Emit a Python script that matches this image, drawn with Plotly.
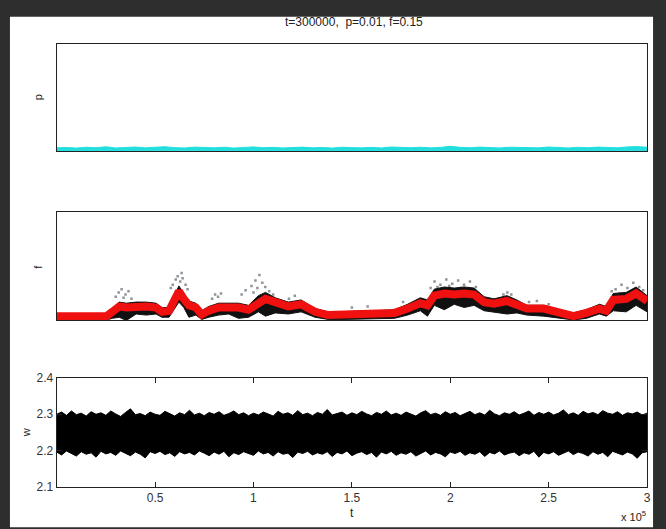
import numpy as np
import plotly.graph_objects as go

# ---------------- data ----------------
T_END = 300000

# p: upper / lower edges of the noisy trace (evenly sampled over 0..T_END)
p_high = [0.030, 0.034, 0.028, 0.036, 0.031, 0.040, 0.029, 0.033, 0.038, 0.030,
          0.035, 0.041, 0.032, 0.029, 0.037, 0.033, 0.030, 0.036, 0.028, 0.034,
          0.039, 0.031, 0.035, 0.029, 0.033, 0.037, 0.030, 0.034, 0.028, 0.036,
          0.032, 0.030, 0.035, 0.029, 0.038, 0.033, 0.031, 0.036, 0.030, 0.034,
          0.045, 0.035, 0.031, 0.037, 0.033, 0.029, 0.036, 0.032, 0.034, 0.030,
          0.038, 0.033, 0.029, 0.035, 0.031, 0.037, 0.034, 0.030, 0.039, 0.042,
          0.036]
p_low = [0.004, 0.003, 0.005, 0.002, 0.004, 0.003, 0.005, 0.004, 0.002, 0.004,
         0.003, 0.005, 0.004, 0.003, 0.002, 0.004, 0.005, 0.003, 0.004, 0.002,
         0.004, 0.003, 0.005, 0.004, 0.003, 0.004, 0.002, 0.005, 0.003, 0.004,
         0.004, 0.003, 0.002, 0.005, 0.004, 0.003, 0.004, 0.005, 0.003, 0.002,
         0.004, 0.003, 0.005, 0.004, 0.003, 0.004, 0.002, 0.004, 0.005, 0.003,
         0.004, 0.003, 0.002, 0.004, 0.005, 0.003, 0.004, 0.003, 0.005, 0.004,
         0.003]

# f: smoothed trend (red), raw spread (black) and sparse outliers (grey)
f_t_k = [0, 11.6, 25.3, 28.3, 31.8, 35.4, 40.4, 45.5, 50.5, 53.5,
         57.1, 59.6, 62.1, 64.6, 67.2, 70.7, 73.7, 77.3, 82.3, 87.4,
         92.4, 97.5, 102.5, 106.1, 111.1, 117.7, 124.2, 131.3, 137.9, 146.5,
         154.5, 163.1, 171.7, 178.3, 184.8, 188.4, 191.9, 197.0, 202.0, 207.1,
         212.1, 217.2, 222.2, 228.8, 233.8, 238.9, 247.5, 255.6, 262.6, 269.2,
         275.8, 279.3, 282.8, 289.4, 294.4, 300]
f_smooth = [0.04, 0.04, 0.04, 0.08, 0.13, 0.12, 0.13, 0.13, 0.12, 0.08,
            0.09, 0.17, 0.27, 0.20, 0.14, 0.12, 0.055, 0.09, 0.12, 0.12,
            0.12, 0.10, 0.17, 0.20, 0.17, 0.13, 0.15, 0.08, 0.05, 0.055,
            0.06, 0.06, 0.07, 0.11, 0.16, 0.14, 0.23, 0.25, 0.24, 0.25,
            0.24, 0.17, 0.155, 0.18, 0.15, 0.11, 0.11, 0.075, 0.04, 0.07,
            0.11, 0.09, 0.19, 0.20, 0.25, 0.18]
f_raw_low = [0.005, 0.01, 0.005, 0.02, 0.03, 0.0, 0.06, 0.05, 0.06, 0.03,
             0.03, 0.10, 0.17, 0.12, 0.03, 0.05, 0.01, 0.03, 0.05, 0.06,
             0.02, 0.03, 0.08, 0.04, 0.07, 0.06, 0.08, 0.03, 0.01, 0.01,
             0.015, 0.02, 0.02, 0.05, 0.09, 0.04, 0.14, 0.10, 0.15, 0.12,
             0.14, 0.09, 0.08, 0.06, 0.07, 0.05, 0.04, 0.02, 0.005, 0.02,
             0.06, 0.04, 0.09, 0.08, 0.14, 0.08]
f_raw_high = [0.06, 0.065, 0.06, 0.11, 0.17, 0.16, 0.17, 0.17, 0.16, 0.12,
              0.12, 0.22, 0.32, 0.25, 0.18, 0.16, 0.09, 0.13, 0.16, 0.16,
              0.16, 0.14, 0.23, 0.26, 0.21, 0.17, 0.19, 0.11, 0.08, 0.08,
              0.09, 0.09, 0.10, 0.15, 0.21, 0.19, 0.29, 0.31, 0.30, 0.31,
              0.30, 0.22, 0.20, 0.23, 0.19, 0.14, 0.14, 0.10, 0.07, 0.10,
              0.15, 0.13, 0.25, 0.26, 0.31, 0.23]
f_out_t_k = [30, 31.5, 33, 34, 35, 36.5, 38, 58, 59, 60.5, 61.5, 62.8, 63.5, 64, 65.5, 66.5,
             79, 80.5, 82, 83.5, 94, 96, 99, 100, 101, 102, 103, 104.5, 106, 108, 110,
             118, 121, 150, 158, 176, 181,
             190, 192, 193.5, 195, 198, 199.5, 201, 204, 205.5, 207, 210, 211.5, 213,
             227, 229, 231, 240, 244, 250,
             282, 284, 286, 287, 290, 292, 293, 296, 298]
f_out = [0.22, 0.26, 0.29, 0.21, 0.24, 0.27, 0.20, 0.30, 0.33, 0.38, 0.41, 0.36, 0.44, 0.39, 0.33, 0.29,
         0.20, 0.24, 0.22, 0.25, 0.24, 0.28, 0.32, 0.26, 0.37, 0.30, 0.42, 0.35, 0.31, 0.27, 0.24,
         0.20, 0.23, 0.12, 0.13, 0.17, 0.15,
         0.30, 0.36, 0.31, 0.33, 0.38, 0.32, 0.34, 0.37, 0.30, 0.33, 0.36, 0.29, 0.31,
         0.24, 0.26, 0.24, 0.17, 0.18, 0.15,
         0.27, 0.29, 0.25, 0.33, 0.30, 0.27, 0.35, 0.31, 0.28]

# w: upper / lower edges of the dense noisy trace (evenly sampled)
w_high = [2.300, 2.306, 2.297, 2.309, 2.299, 2.303, 2.295, 2.307, 2.300, 2.304,
          2.297, 2.309, 2.301, 2.294, 2.305, 2.315, 2.299, 2.302, 2.296, 2.306,
          2.300, 2.297, 2.308, 2.301, 2.295, 2.304, 2.299, 2.311, 2.298, 2.303,
          2.296, 2.305, 2.300, 2.307, 2.297, 2.302, 2.309, 2.299, 2.304, 2.296,
          2.303, 2.298, 2.306, 2.301, 2.295, 2.308, 2.300, 2.304, 2.297, 2.310,
          2.299, 2.303, 2.296, 2.305, 2.300, 2.313, 2.298, 2.302, 2.306, 2.297,
          2.304, 2.299, 2.308, 2.301, 2.296, 2.305, 2.300, 2.309, 2.298, 2.303,
          2.297, 2.306, 2.301, 2.295, 2.304, 2.310, 2.299, 2.303, 2.297, 2.307,
          2.300, 2.305, 2.296, 2.302, 2.308, 2.299, 2.304, 2.298, 2.311, 2.301,
          2.296, 2.304, 2.300, 2.307, 2.298, 2.303, 2.309, 2.297, 2.305, 2.300,
          2.306, 2.298, 2.303, 2.312, 2.299, 2.304, 2.297, 2.308, 2.301, 2.305,
          2.299, 2.310, 2.303, 2.300, 2.307, 2.297, 2.304, 2.301, 2.306, 2.298,
          2.303]
w_low = [2.196, 2.188, 2.199, 2.192, 2.185, 2.197, 2.190, 2.194, 2.182, 2.198,
         2.191, 2.195, 2.187, 2.199, 2.193, 2.186, 2.196, 2.190, 2.180, 2.197,
         2.192, 2.198, 2.189, 2.194, 2.184, 2.197, 2.191, 2.195, 2.188, 2.199,
         2.193, 2.186, 2.196, 2.190, 2.198, 2.183, 2.194, 2.189, 2.197, 2.192,
         2.187, 2.199, 2.191, 2.195, 2.185, 2.197, 2.190, 2.193, 2.181, 2.196,
         2.192, 2.198, 2.188, 2.194, 2.190, 2.197, 2.184, 2.195, 2.191, 2.199,
         2.186, 2.193, 2.197, 2.189, 2.195, 2.182, 2.196, 2.191, 2.198, 2.187,
         2.194, 2.190, 2.197, 2.185, 2.193, 2.199, 2.188, 2.195, 2.191, 2.183,
         2.196, 2.192, 2.198, 2.187, 2.194, 2.190, 2.197, 2.184, 2.195, 2.191,
         2.199, 2.188, 2.193, 2.196, 2.186, 2.194, 2.190, 2.198, 2.182, 2.195,
         2.191, 2.197, 2.187, 2.194, 2.199, 2.189, 2.196, 2.192, 2.185, 2.197,
         2.190, 2.195, 2.183, 2.198, 2.192, 2.188, 2.196, 2.191, 2.179, 2.194,
         2.197]

x_tickvals = [50000, 100000, 150000, 200000, 250000, 300000]
x_ticktext = ["0.5", "1", "1.5", "2", "2.5", "3"]
w_tickvals = [2.1, 2.2, 2.3, 2.4]
w_ticktext = ["2.1", "2.2", "2.3", "2.4"]

title_text = "t=300000,  p=0.01, f=0.15"

# ---------------- figure ----------------
W, H = 666, 529
FONT = "Liberation Sans, Arial, sans-serif"

t_p = np.linspace(0, T_END, len(p_high))
t_w = np.linspace(0, T_END, len(w_high))
t_f = np.array(f_t_k) * 1000
t_out = np.array(f_out_t_k) * 1000

fig = go.Figure()

# p panel (cyan band)
fig.add_trace(go.Scatter(x=t_p, y=p_low, mode="lines", line=dict(color="#22dede", width=1),
                         xaxis="x", yaxis="y", showlegend=False, hoverinfo="skip"))
fig.add_trace(go.Scatter(x=t_p, y=p_high, mode="lines", line=dict(color="#22dede", width=1),
                         fill="tonexty", fillcolor="#22dede",
                         xaxis="x", yaxis="y", showlegend=False, hoverinfo="skip"))

# f panel: raw spread, outliers, smoothed trend
fig.add_trace(go.Scatter(x=t_out, y=f_out, mode="markers",
                         marker=dict(color="rgba(50,60,70,0.55)", size=2.5, symbol="square"),
                         xaxis="x2", yaxis="y2", showlegend=False, hoverinfo="skip"))
fig.add_trace(go.Scatter(x=t_f, y=f_raw_low, mode="lines", line=dict(color="#111111", width=1),
                         xaxis="x2", yaxis="y2", showlegend=False, hoverinfo="skip"))
fig.add_trace(go.Scatter(x=t_f, y=f_raw_high, mode="lines", line=dict(color="#111111", width=1),
                         fill="tonexty", fillcolor="#111111",
                         xaxis="x2", yaxis="y2", showlegend=False, hoverinfo="skip"))
fig.add_trace(go.Scatter(x=t_f, y=f_smooth, mode="lines", line=dict(color="#f01010", width=8),
                         xaxis="x2", yaxis="y2", showlegend=False, hoverinfo="skip"))

# w panel (dense black band)
fig.add_trace(go.Scatter(x=t_w, y=w_low, mode="lines", line=dict(color="black", width=1),
                         xaxis="x3", yaxis="y3", showlegend=False, hoverinfo="skip"))
fig.add_trace(go.Scatter(x=t_w, y=w_high, mode="lines", line=dict(color="black", width=1),
                         fill="tonexty", fillcolor="black",
                         xaxis="x3", yaxis="y3", showlegend=False, hoverinfo="skip"))

x_dom = [57 / W, 651 / W]


def ydom(top_px, bottom_px):
    return [1 - bottom_px / H, 1 - top_px / H]


box = dict(showline=True, linecolor="#222222", linewidth=1, mirror=True,
           showgrid=False, zeroline=False)

fig.update_layout(
    width=W, height=H,
    margin=dict(l=0, r=0, t=0, b=0),
    paper_bgcolor="#2e2e2e",
    plot_bgcolor="white",
    font=dict(family=FONT, size=11, color="#222222"),
    xaxis=dict(domain=x_dom, range=[0, T_END], anchor="y", showticklabels=False,
               ticks="", **box),
    yaxis=dict(domain=ydom(38, 148), range=[0, 1], anchor="x", showticklabels=False,
               ticks="", **box),
    xaxis2=dict(domain=x_dom, range=[0, T_END], anchor="y2", showticklabels=False,
                ticks="", **box),
    yaxis2=dict(domain=ydom(211, 322), range=[0, 1], anchor="x2", showticklabels=False,
                ticks="", **box),
    xaxis3=dict(domain=x_dom, range=[0, T_END], anchor="y3",
                tickvals=x_tickvals, ticktext=x_ticktext,
                ticks="inside", ticklen=5, tickcolor="#222222",
                tickfont=dict(size=12, color="#333333"),
                showline=True, linecolor="#222222", linewidth=1, mirror="ticks",
                showgrid=False, zeroline=False),
    yaxis3=dict(domain=ydom(381, 493), range=[2.1, 2.4], anchor="x3",
                tickvals=w_tickvals, ticktext=w_ticktext,
                ticks="inside", ticklen=5, tickcolor="#222222",
                tickfont=dict(size=12, color="#333333"),
                showline=True, linecolor="#222222", linewidth=1, mirror="ticks",
                showgrid=False, zeroline=False),
    shapes=[dict(type="rect", xref="paper", yref="paper",
                 x0=10 / W, x1=657 / W, y0=-0.01, y1=1 - 10 / H,
                 fillcolor="white", line=dict(width=0), layer="below")],
    annotations=[
        dict(text=title_text, xref="paper", yref="paper", x=356 / W, y=1 - 15 / H,
             showarrow=False, font=dict(size=12, color="#222222"), xanchor="center", yanchor="middle"),
        dict(text="p", xref="paper", yref="paper", x=38 / W, y=1 - 93 / H, textangle=-90,
             showarrow=False, font=dict(size=11), xanchor="center", yanchor="middle"),
        dict(text="f", xref="paper", yref="paper", x=38 / W, y=1 - 267 / H, textangle=-90,
             showarrow=False, font=dict(size=11), xanchor="center", yanchor="middle"),
        dict(text="w", xref="paper", yref="paper", x=27 / W, y=1 - 437 / H, textangle=-90,
             showarrow=False, font=dict(size=11), xanchor="center", yanchor="middle"),
        dict(text="t", xref="paper", yref="paper", x=354 / W, y=1 - 520 / H,
             showarrow=False, font=dict(size=12), xanchor="center", yanchor="middle"),
        dict(text="x 10<sup>5</sup>", xref="paper", yref="paper", x=652 / W, y=1 - 523 / H,
             showarrow=False, font=dict(size=11), xanchor="right", yanchor="middle"),
    ],
)

fig.write_html("out.html")
